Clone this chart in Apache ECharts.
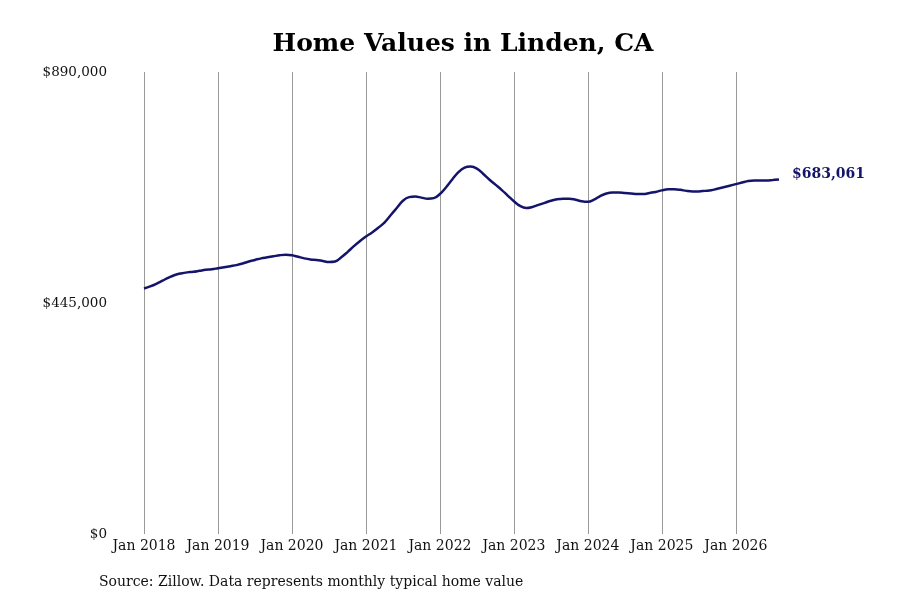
<!DOCTYPE html>
<html>
<head>
<meta charset="utf-8">
<script src="https://cdn.jsdelivr.net/npm/echarts@6/dist/echarts.min.js"></script>
<style>
  html, body { margin: 0; padding: 0; background: #fff; }
  #chart { width: 900px; height: 600px; }
</style>
</head>
<body>
<div id="chart"></div>
<script>
// monthly typical home value, Jan 2018 .. Aug 2026
var years = [2018, 2019, 2020, 2021, 2022, 2023, 2024, 2025, 2026];
var monthsIn2026 = 8;
var values = [
  473000, 477000, 482000, 488000, 494000, 499000, 502000, 504000, 505000, 507000, 509000, 510000,
  512000, 514000, 516000, 518000, 521000, 525000, 528000, 531000, 533000, 535000, 537000, 538000,
  537000, 534000, 531000, 529000, 528000, 526000, 524000, 525000, 533000, 543000, 554000, 564000,
  573000, 581000, 590000, 600000, 614000, 628000, 642000, 649000, 650000, 648000, 646000, 647000,
  655000, 668000, 683000, 697000, 706000, 708000, 704000, 694000, 683000, 673000, 663000, 652000,
  641000, 632000, 628000, 630000, 634000, 638000, 642000, 645000, 646000, 646000, 644000, 641000,
  640000, 644000, 651000, 656000, 658000, 658000, 657000, 656000, 655000, 655000, 657000, 659000,
  662000, 664000, 664000, 663000, 661000, 660000, 660000, 661000, 662000, 665000, 668000, 671000,
  674000, 677000, 680000, 681000, 681000, 681000, 682000, 683061
];
var yTicks = [0, 445000, 890000];

var months = [];
years.forEach(function (y) {
  var n = y === 2026 ? monthsIn2026 : 12;
  for (var m = 0; m < n; m++) months.push((m === 0 ? 'Jan ' : 'M' + (m + 1) + ' ') + y);
});

function money(v) {
  return '$' + v.toLocaleString('en-US');
}

var chart = echarts.init(document.getElementById('chart'));
var font = 'DejaVu Serif';
chart.setOption({
  animation: false,
  textStyle: { fontFamily: font },
  title: {
    text: 'Home Values in Linden, CA',
    left: 458, top: 27, textAlign: 'center',
    textStyle: { fontFamily: font, fontSize: 25, fontWeight: 'bold', color: '#000' }
  },
  graphic: [{
    type: 'text', left: 99, top: 575,
    style: {
      text: 'Source: Zillow. Data represents monthly typical home value',
      font: '14px "DejaVu Serif"', fill: '#111'
    }
  }],
  grid: { left: 144, top: 72, width: 635, bottom: 66 },
  xAxis: {
    type: 'category',
    data: months,
    boundaryGap: false,
    axisLine: { show: false },
    axisTick: { show: false },
    axisLabel: {
      interval: function (i) { return i % 12 === 0; },
      formatter: function (v) { return v; },
      color: '#111', fontFamily: font, fontSize: 14, margin: 5
    },
    splitLine: {
      show: true,
      interval: function (i) { return i % 12 === 0; },
      lineStyle: { color: '#999', width: 1 }
    }
  },
  yAxis: {
    type: 'value',
    min: yTicks[0], max: yTicks[2], interval: yTicks[1],
    axisLine: { show: false },
    axisTick: { show: false },
    splitLine: { show: false },
    axisLabel: {
      formatter: money, color: '#111', fontFamily: font, fontSize: 13.5, margin: 37
    }
  },
  series: [{
    type: 'line',
    data: values,
    smooth: 0.4,
    symbol: 'none',
    lineStyle: { color: '#15146b', width: 2.5 },
    endLabel: {
      show: true,
      formatter: function (p) { return money(p.value); },
      color: '#15146b', fontFamily: font, fontSize: 14, fontWeight: 'bold',
      distance: 13, offset: [0, -5]
    }
  }]
});
</script>
</body>
</html>
